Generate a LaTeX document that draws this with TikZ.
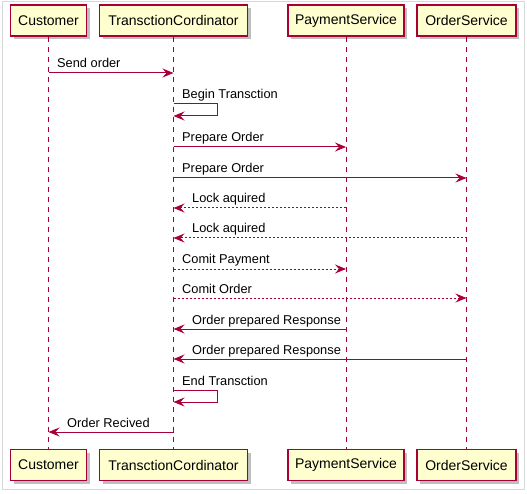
\documentclass[tikz,border=0pt]{standalone}
\usepackage{fontspec}
\setmainfont{Liberation Sans}
\usetikzlibrary{arrows.meta,shadows}
\definecolor{puml}{HTML}{A80036}
\definecolor{pfill}{HTML}{FEFECE}
\definecolor{framec}{HTML}{D8D8D8}
\begin{document}
\begin{tikzpicture}[x=1pt,y=-1pt,
  part/.style={draw=puml, line width=1.2pt, fill=pfill, minimum height=31pt, inner sep=0pt,
    font=\fontsize{14}{16}\selectfont, text=black,
    drop shadow={shadow xshift=3pt, shadow yshift=-3pt, fill=black, opacity=0.25}},
  life/.style={draw=puml, line width=1pt, dash pattern=on 5pt off 5pt},
  msg/.style={draw=puml, line width=1pt, -{Stealth[length=11pt,width=9pt,inset=4pt]}},
  dotmsg/.style={msg, dash pattern=on 2pt off 2pt},
  lbl/.style={font=\fontsize{12.8}{15}\selectfont, anchor=base west, inner sep=0pt, text=black}]
\useasboundingbox (0,0) rectangle (527,494);
\fill[white] (0,0) rectangle (527,494);
\draw[framec, line width=1pt] (2,2) rectangle (524,489);

% participants
\node[part, minimum width=76pt]  (C)  at (48.5,20.5) {Customer};
\node[part, minimum width=148pt] (T)  at (173.5,20.5) {TransctionCordinator};
\node[part, minimum width=116pt] (P)  at (346,20.5) {PaymentService};
\node[part, minimum width=99pt]  (O)  at (466.5,20.5) {OrderService};
\node[part, minimum width=76pt]  (Cb) at (48.5,465) {Customer};
\node[part, minimum width=148pt] (Tb) at (173.5,465) {TransctionCordinator};
\node[part, minimum width=116pt] (Pb) at (346,465) {PaymentService};
\node[part, minimum width=99pt]  (Ob) at (466.5,465) {OrderService};

% lifelines
\draw[life] (C.south) -- (Cb.north);
\draw[life] (T.south) -- (Tb.north);
\draw[life] (P.south) -- (Pb.north);
\draw[life] (O.south) -- (Ob.north);

% rows
\coordinate (r1) at (0,73);
\coordinate (r2a) at (0,104);
\coordinate (r2b) at (0,116);
\coordinate (r3) at (0,147);
\coordinate (r4) at (0,178);
\coordinate (r5) at (0,208);
\coordinate (r6) at (0,238);
\coordinate (r7) at (0,269);
\coordinate (r8) at (0,298);
\coordinate (r9) at (0,329);
\coordinate (r10) at (0,359);
\coordinate (r11a) at (0,390);
\coordinate (r11b) at (0,402);
\coordinate (r12) at (0,432);

% messages
\draw[msg] (C |- r1) -- (T |- r1);
\node[lbl] (l1) at (57,68) {Send order};

\draw[msg] (T |- r2a) -- ++(44,0) -- ++(0,12) -- (T |- r2b);
\node[lbl] (l2) at (182,99) {Begin Transction};

\draw[msg] (T |- r3) -- (P |- r3);
\node[lbl] (l3) at (182,142) {Prepare Order};

\draw[msg] (T |- r4) -- (O |- r4);
\node[lbl] (l4) at (182,173) {Prepare Order};

\draw[dotmsg] (P |- r5) -- (T |- r5);
\node[lbl] (l5) at (192,203) {Lock aquired};

\draw[dotmsg] (O |- r6) -- (T |- r6);
\node[lbl] (l6) at (192,233) {Lock aquired};

\draw[dotmsg] (T |- r7) -- (P |- r7);
\node[lbl] (l7) at (182,264) {Comit Payment};

\draw[dotmsg] (T |- r8) -- (O |- r8);
\node[lbl] (l8) at (182,293) {Comit Order};

\draw[msg] (P |- r9) -- (T |- r9);
\node[lbl] (l9) at (192,324) {Order prepared Response};

\draw[msg] (O |- r10) -- (T |- r10);
\node[lbl] (l10) at (192,354) {Order prepared Response};

\draw[msg] (T |- r11a) -- ++(44,0) -- ++(0,12) -- (T |- r11b);
\node[lbl] (l11) at (182,385) {End Transction};

\draw[msg] (T |- r12) -- (C |- r12);
\node[lbl] (l12) at (67,427) {Order Recived};
\end{tikzpicture}
\end{document}
